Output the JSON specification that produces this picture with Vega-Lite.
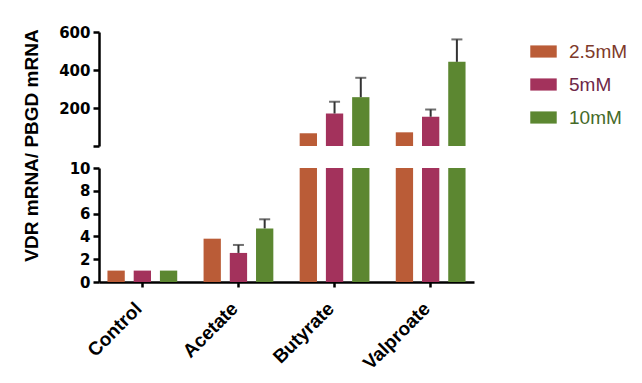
{
  "$schema": "https://vega.github.io/schema/vega-lite/v6.json",
  "background": "white",
  "padding": {"left": 21, "top": 25, "right": 5, "bottom": 2},
  "bounds": "flush",
  "spacing": 22,
  "config": {
    "view": {"stroke": null},
    "axis": {
      "grid": false,
      "domainColor": "black",
      "domainWidth": 2.5,
      "tickColor": "black",
      "tickWidth": 2.5,
      "labelColor": "black",
      "titleColor": "black",
      "labelOverlap": false,
      "labelBound": false
    }
  },
  "data": {
    "values": [
      {"treatment": "Control", "dose": "2.5mM", "value": 1},
      {"treatment": "Control", "dose": "5mM", "value": 1},
      {"treatment": "Control", "dose": "10mM", "value": 1},
      {"treatment": "Acetate", "dose": "2.5mM", "value": 3.8},
      {"treatment": "Acetate", "dose": "5mM", "value": 2.55, "upper": 3.25},
      {"treatment": "Acetate", "dose": "10mM", "value": 4.7, "upper": 5.5},
      {"treatment": "Butyrate", "dose": "2.5mM", "value": 67},
      {"treatment": "Butyrate", "dose": "5mM", "value": 171, "upper": 233},
      {"treatment": "Butyrate", "dose": "10mM", "value": 257, "upper": 359},
      {"treatment": "Valproate", "dose": "2.5mM", "value": 72},
      {"treatment": "Valproate", "dose": "5mM", "value": 154, "upper": 192},
      {"treatment": "Valproate", "dose": "10mM", "value": 443, "upper": 561}
    ]
  },
  "vconcat": [
    {
      "width": 375,
      "height": 114,
      "transform": [{"filter": "datum.value > 10"}],
      "encoding": {
        "x": {
          "field": "treatment",
          "type": "nominal",
          "scale": {"domain": ["Control", "Acetate", "Butyrate", "Valproate"], "paddingInner": 0.274, "paddingOuter": 0.088},
          "axis": null
        },
        "xOffset": {
          "field": "dose",
          "type": "nominal",
          "scale": {"domain": ["2.5mM", "5mM", "10mM"], "paddingInner": 0.34, "paddingOuter": 0}
        }
      },
      "layer": [
        {
          "mark": {"type": "bar"},
          "encoding": {
            "y": {
              "field": "value",
              "type": "quantitative",
              "scale": {"domain": [0, 600], "nice": false},
              "axis": {
                "title": null,
                "values": [0, 200, 400, 600],
                "tickCount": 20,
                "format": "d",
                "labelExpr": "datum.value === 0 ? '' : datum.label",
                "labelFont": "DejaVu Sans",
                "labelFontWeight": "bold",
                "labelFontSize": 15,
                "labelPadding": 3,
                "tickSize": 6,
                "encode": {"ticks": {"update": {"x": {"signal": "datum.value === 0 ? 7 : 0"}}}}
              }
            },
            "color": {
              "field": "dose",
              "type": "nominal",
              "scale": {"domain": ["2.5mM", "5mM", "10mM"], "range": ["#BA5C37", "#A3325C", "#5C8731"]},
              "legend": {
                "title": null,
                "orient": "right",
                "offset": 50,
                "padding": 6,
                "symbolType": "M-1,-0.46H1V0.46H-1Z",
                "symbolSize": 700,
                "symbolStrokeWidth": 0,
                "symbolOpacity": 1,
                "labelFont": "Liberation Sans",
                "labelFontSize": 19,
                "labelOffset": 12,
                "rowPadding": 9,
                "encode": {
                  "labels": {
                    "update": {
                      "fill": {"signal": "datum.value === '2.5mM' ? '#7E3A2A' : datum.value === '5mM' ? '#6E2848' : '#456A28'"}
                    }
                  }
                }
              }
            }
          }
        },
        {
          "transform": [{"filter": "isValid(datum.upper)"}],
          "mark": {"type": "rule", "color": "#333333", "strokeWidth": 2},
          "encoding": {
            "y": {"field": "value", "type": "quantitative"},
            "y2": {"field": "upper"}
          }
        },
        {
          "transform": [{"filter": "isValid(datum.upper)"}],
          "mark": {"type": "tick", "color": "#333333", "thickness": 2, "size": 11},
          "encoding": {
            "y": {"field": "upper", "type": "quantitative"}
          }
        }
      ]
    },
    {
      "width": 375,
      "height": 114,
      "encoding": {
        "x": {
          "field": "treatment",
          "type": "nominal",
          "scale": {"domain": ["Control", "Acetate", "Butyrate", "Valproate"], "paddingInner": 0.274, "paddingOuter": 0.088},
          "axis": {
            "title": null,
            "labelAngle": -45,
            "labelFont": "Liberation Sans",
            "labelFontWeight": "bold",
            "labelFontSize": 19,
            "labelPadding": 12,
            "labelOffset": -10,
            "tickSize": 5
          }
        },
        "xOffset": {
          "field": "dose",
          "type": "nominal",
          "scale": {"domain": ["2.5mM", "5mM", "10mM"], "paddingInner": 0.34, "paddingOuter": 0}
        }
      },
      "layer": [
        {
          "mark": {"type": "bar", "clip": true},
          "encoding": {
            "y": {
              "field": "value",
              "type": "quantitative",
              "scale": {"domain": [0, 10], "nice": false},
              "axis": {
                "title": "VDR mRNA/ PBGD mRNA",
                "titleFont": "Liberation Sans",
                "titleFontWeight": "bold",
                "titleFontSize": 19,
                "titleX": -58,
                "titleY": -23,
                "titleAnchor": null,
                "titleAlign": "center",
                "values": [0, 2, 4, 6, 8, 10],
                "tickCount": 20,
                "format": "d",
                "labelFont": "DejaVu Sans",
                "labelFontWeight": "bold",
                "labelFontSize": 15,
                "labelPadding": 3,
                "tickSize": 6,
                "encode": {"ticks": {"update": {"x": {"signal": "datum.value === 10 ? 7 : 0"}}}}
              }
            },
            "color": {"field": "dose", "type": "nominal"}
          }
        },
        {
          "transform": [{"filter": "isValid(datum.upper) && datum.value <= 10"}],
          "mark": {"type": "rule", "color": "#333333", "strokeWidth": 2},
          "encoding": {
            "y": {"field": "value", "type": "quantitative"},
            "y2": {"field": "upper"}
          }
        },
        {
          "transform": [{"filter": "isValid(datum.upper) && datum.value <= 10"}],
          "mark": {"type": "tick", "color": "#333333", "thickness": 2, "size": 11},
          "encoding": {
            "y": {"field": "upper", "type": "quantitative"}
          }
        }
      ]
    }
  ],
  "resolve": {"scale": {"color": "shared"}}
}
